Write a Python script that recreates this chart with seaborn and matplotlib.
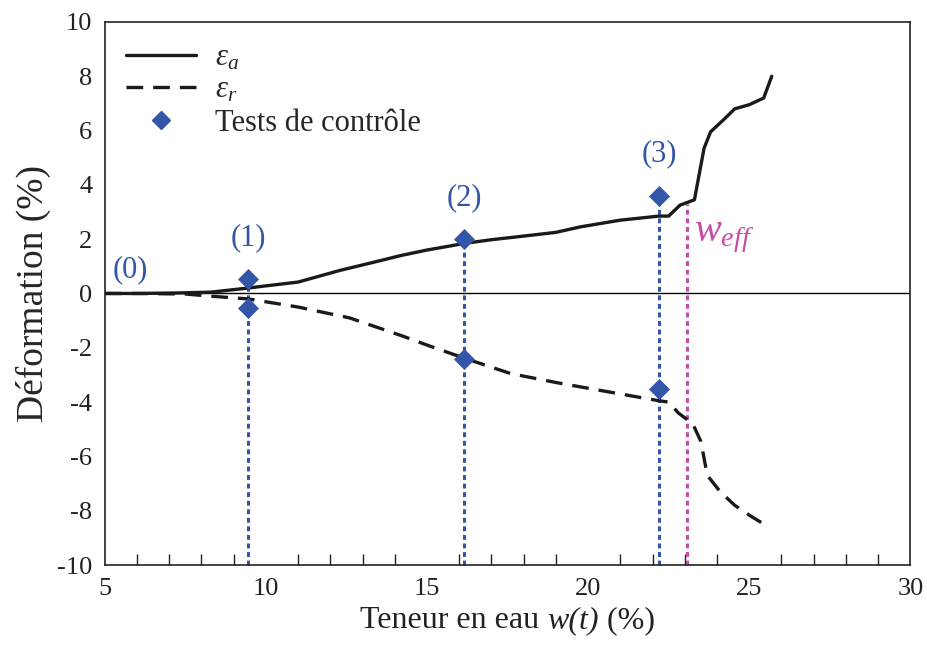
import matplotlib
matplotlib.use("Agg")
import matplotlib.pyplot as plt
import seaborn as sns
import pandas as pd
from matplotlib.ticker import MultipleLocator
from matplotlib.lines import Line2D
from matplotlib.offsetbox import TextArea, HPacker, AnchoredOffsetbox

# Axial strain curve
w_a = [5.0, 6.0, 7.3, 8.3, 9.45, 10.0, 11.0, 12.3, 13.0, 14.2, 15.0, 16.2, 17.0, 17.9,
       19.0, 19.75, 21.0, 22.2, 22.5, 22.85, 23.3, 23.6, 23.8, 24.25, 24.55, 25.0, 25.45, 25.7]
eps_a = [0.0, 0.0, 0.02, 0.05, 0.2, 0.28, 0.42, 0.85, 1.05, 1.4, 1.6, 1.85, 1.98, 2.1,
         2.25, 2.45, 2.7, 2.85, 2.85, 3.25, 3.45, 5.35, 5.95, 6.45, 6.8, 6.95, 7.2, 8.0]

# Radial strain curve
w_r = [5.0, 6.0, 7.5, 8.3, 9.45, 11.0, 12.6, 14.2, 15.0, 16.2, 17.6, 19.1, 21.0, 22.2,
       22.5, 22.8, 23.25, 23.5, 23.7, 24.1, 24.55, 25.05, 25.6]
eps_r = [0.0, 0.0, -0.02, -0.1, -0.2, -0.5, -0.9, -1.55, -1.9, -2.4, -2.95, -3.3, -3.7, -3.95,
         -4.0, -4.4, -4.8, -5.45, -6.7, -7.3, -7.8, -8.2, -8.6]

# Control tests
test_w = [9.45, 16.15, 22.2]
test_eps_a = [0.52, 2.0, 3.6]
test_eps_r = [-0.52, -2.4, -3.5]
test_labels = ["(1)", "(2)", "(3)"]

w_eff = 23.07
w_eff_top = 3.3

blue = "#3356a8"
magenta = "#c44fa8"

sns.set_theme(style="white")
plt.rcParams["font.family"] = ["Liberation Serif", "DejaVu Serif"]
plt.rcParams["mathtext.fontset"] = "custom"
plt.rcParams["mathtext.rm"] = "Liberation Serif"
plt.rcParams["mathtext.it"] = "Liberation Serif:italic"
plt.rcParams["mathtext.bf"] = "Liberation Serif:bold"

fig, ax = plt.subplots(figsize=(9.27, 6.45), dpi=100)
fig.subplots_adjust(left=0.113, right=0.982, top=0.966, bottom=0.124)

df_a = pd.DataFrame({"w": w_a, "eps": eps_a})
df_r = pd.DataFrame({"w": w_r, "eps": eps_r})

ax.axhline(0, color="black", lw=1.0, zorder=1)

# vertical guides for the control tests and the effective water content
for x, ya in zip(test_w, test_eps_a):
    ax.plot([x, x], [-10, ya], color=blue, lw=2.2, ls=(0, (1.6, 1.2)), zorder=2)
ax.plot([w_eff, w_eff], [-10, w_eff_top], color=magenta, lw=2.2, ls=(0, (1.6, 1.2)), zorder=2)

sns.lineplot(data=df_a, x="w", y="eps", ax=ax, color="#1a1a1a", lw=2.4, zorder=3)
sns.lineplot(data=df_r, x="w", y="eps", ax=ax, color="#1a1a1a", lw=2.4, zorder=3)
ax.lines[-1].set_linestyle((0, (5, 3)))

pts = pd.DataFrame({"w": test_w * 2, "eps": test_eps_a + test_eps_r})
sns.scatterplot(data=pts, x="w", y="eps", ax=ax, marker="D", s=115, color=blue,
                edgecolor=blue, linewidth=0, zorder=4)

for x, ya, lab in zip(test_w, test_eps_a, test_labels):
    ax.text(x, ya + 1.0, lab, color=blue, fontsize=22, ha="center", va="bottom")
ax.text(5.8, 0.35, "(0)", color=blue, fontsize=22, ha="center", va="bottom")
ax.text(23.3, 2.1, r"$w_{eff}$", color=magenta, fontsize=29, ha="left", va="center")

ax.set_xlim(5, 30)
ax.set_ylim(-10, 10)
ax.xaxis.set_major_locator(MultipleLocator(5))
ax.xaxis.set_minor_locator(MultipleLocator(1))
ax.yaxis.set_major_locator(MultipleLocator(2))
ax.tick_params(axis="both", which="both", direction="in", top=False, right=False,
               labelsize=19, colors="#222222")
ax.tick_params(axis="both", which="major", length=8, width=1.0, pad=9)
ax.tick_params(axis="x", which="minor", length=8, width=1.0, bottom=True)
ax.set_yticklabels([f"{int(v)}" for v in ax.get_yticks()])
for s in ax.spines.values():
    s.set_color("#222222")
    s.set_linewidth(1.2)

ax.set_xlabel("")
ax.set_ylabel("Déformation (%)", fontsize=27, labelpad=4)

# x-axis title with the italic w(t)
lab_props = dict(fontsize=23, color="#222222", family=["Liberation Serif", "DejaVu Serif"])
xlab = HPacker(children=[
    TextArea("Teneur en eau ", textprops=lab_props),
    TextArea("w(t)", textprops=dict(lab_props, style="italic")),
    TextArea(" (%)", textprops=lab_props),
], align="baseline", pad=0, sep=0)
ax.add_artist(AnchoredOffsetbox(loc="upper center", child=xlab, frameon=False, pad=0,
                                bbox_to_anchor=(0.5, -0.075), bbox_transform=ax.transAxes,
                                borderpad=0))

handles = [
    Line2D([], [], color="#1a1a1a", lw=2.4),
    Line2D([], [], color="#1a1a1a", lw=2.4, ls=(0, (5, 3))),
    Line2D([], [], color=blue, marker="D", ls="none", markersize=9.5),
]
ax.legend(handles, [r"$\varepsilon_a$", r"$\varepsilon_r$", "Tests de contrôle"],
          loc="upper left", frameon=False, fontsize=22, handlelength=2.3,
          handletextpad=0.6, borderaxespad=0.3, labelspacing=0.12,
          bbox_to_anchor=(0.0, 1.0))

fig.savefig("out.png", dpi=100)
